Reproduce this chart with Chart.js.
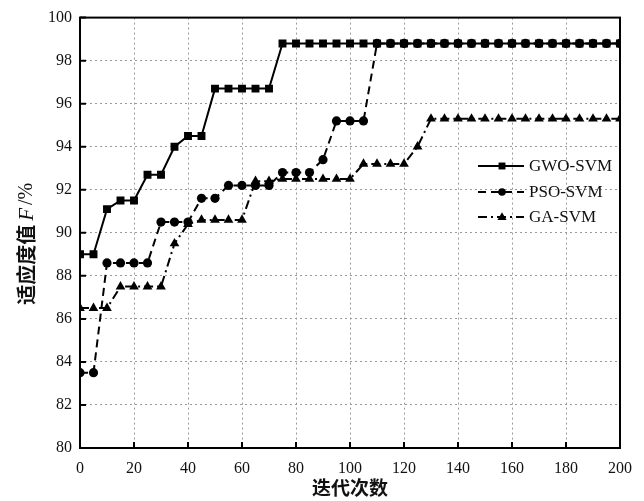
<!DOCTYPE html>
<html><head><meta charset="utf-8">
<script src="https://cdn.jsdelivr.net/npm/chart.js@4/dist/chart.umd.min.js"></script>
<style>html,body{margin:0;padding:0;background:#fff;}canvas{display:block;}</style>
</head><body>
<canvas id="c" width="644" height="501"></canvas>
<script>
// ---- data ----
const iterations = [0,5,10,15,20,25,30,35,40,45,50,55,60,65,70,75,80,85,90,95,100,105,110,115,120,125,130,135,140,145,150,155,160,165,170,175,180,185,190,195,200];
const gwoSvm = [89.0,89.0,91.1,91.5,91.5,92.7,92.7,94.0,94.5,94.5,96.7,96.7,96.7,96.7,96.7,98.8,98.8,98.8,98.8,98.8,98.8,98.8,98.8,98.8,98.8,98.8,98.8,98.8,98.8,98.8,98.8,98.8,98.8,98.8,98.8,98.8,98.8,98.8,98.8,98.8,98.8];
const psoSvm = [83.5,83.5,88.6,88.6,88.6,88.6,90.5,90.5,90.5,91.6,91.6,92.2,92.2,92.2,92.2,92.8,92.8,92.8,93.4,95.2,95.2,95.2,98.8,98.8,98.8,98.8,98.8,98.8,98.8,98.8,98.8,98.8,98.8,98.8,98.8,98.8,98.8,98.8,98.8,98.8,98.8];
const gaSvm  = [86.5,86.5,86.5,87.5,87.5,87.5,87.5,89.5,90.4,90.6,90.6,90.6,90.6,92.4,92.4,92.5,92.5,92.5,92.5,92.5,92.5,93.2,93.2,93.2,93.2,94.0,95.3,95.3,95.3,95.3,95.3,95.3,95.3,95.3,95.3,95.3,95.3,95.3,95.3,95.3,95.3];
const seriesNames = ['GWO-SVM','PSO-SVM','GA-SVM'];
const xTicks = [0,20,40,60,80,100,120,140,160,180,200];
const yTicks = [80,82,84,86,88,90,92,94,96,98,100];
const xTitle = '迭代次数';
const yTitleParts = ['适应度值','F','/%'];

const toPts = arr => arr.map((v,i)=>({x:iterations[i], y:v}));
const SERIF = '"Liberation Serif","DejaVu Serif",serif';
const CJK = '"Noto Sans CJK SC","Noto Sans CJK JP",sans-serif';

function drawMarker(ctx, style, x, y, r){
  ctx.beginPath();
  if(style==='rect'){ const s=r*0.72; ctx.rect(x-s,y-s,2*s,2*s); }
  else if(style==='triangle'){ ctx.moveTo(x,y-r); ctx.lineTo(x+r*0.95,y+r*0.6); ctx.lineTo(x-r*0.95,y+r*0.6); ctx.closePath(); }
  else { ctx.arc(x,y,r,0,Math.PI*2); }
  ctx.fill();
}

const framePlugin = {
  id:'frame',
  afterDraw(chart){
    const {ctx, chartArea:a, scales:{x,y}} = chart;
    ctx.save();
    ctx.strokeStyle='#000'; ctx.lineWidth=2; ctx.setLineDash([]);
    ctx.strokeRect(a.left, a.top, a.right-a.left, a.bottom-a.top);
    // inward tick marks (bottom and left)
    ctx.beginPath();
    xTicks.forEach(t=>{ const px=x.getPixelForValue(t); ctx.moveTo(px,a.bottom); ctx.lineTo(px,a.bottom-6); });
    yTicks.forEach(t=>{ const py=y.getPixelForValue(t); ctx.moveTo(a.left,py); ctx.lineTo(a.left+6,py); });
    ctx.stroke();
    // y title with italic F
    ctx.translate(26, (a.top+a.bottom)/2+11);
    ctx.rotate(-Math.PI/2);
    ctx.fillStyle='#111'; ctx.textBaseline='middle'; ctx.textAlign='left';
    const fonts=['bold 20px '+CJK,'italic 21px '+SERIF,'20px '+SERIF];
    const gaps=[4,3,0];
    let widths = yTitleParts.map((p,i)=>{ctx.font=fonts[i]; return ctx.measureText(p).width;});
    let total = widths.reduce((s,w,i)=>s+w+gaps[i],0);
    let cx=-total/2;
    yTitleParts.forEach((p,i)=>{ ctx.font=fonts[i]; ctx.fillText(p,cx,i===0?0:1); cx+=widths[i]+gaps[i]; });
    ctx.restore();
    // legend
    ctx.save();
    const rows=[166,192,217];
    chart.data.datasets.forEach((ds,i)=>{
      const yy=rows[i];
      ctx.strokeStyle='#000'; ctx.lineWidth=2; ctx.setLineDash(ds.borderDash||[]);
      ctx.beginPath(); ctx.moveTo(478,yy); ctx.lineTo(524,yy); ctx.stroke();
      ctx.setLineDash([]); ctx.fillStyle='#000';
      drawMarker(ctx, ds.pointStyle, 502, yy, ds.pointRadius-0.8);
      ctx.font='17px '+SERIF; ctx.textBaseline='middle'; ctx.textAlign='left'; ctx.fillStyle='#111';
      ctx.fillText(ds.label, 529, yy+1);
    });
    ctx.restore();
  }
};

const common = {borderColor:'#000', backgroundColor:'#000', pointBackgroundColor:'#000', pointBorderColor:'#000', borderWidth:2, pointBorderWidth:0, tension:0, fill:false};
new Chart(document.getElementById('c'), {
  type:'line',
  data:{datasets:[
    Object.assign({label:seriesNames[0], data:toPts(gwoSvm), pointStyle:'rect', pointRadius:5.6, borderDash:[], order:1}, common),
    Object.assign({label:seriesNames[1], data:toPts(psoSvm), pointStyle:'circle', pointRadius:4.6, borderDash:[8,5], order:0}, common),
    Object.assign({label:seriesNames[2], data:toPts(gaSvm), pointStyle:'triangle', pointRadius:5.6, borderDash:[9,4,2,4], order:2}, common)
  ]},
  options:{
    responsive:false, animation:false, devicePixelRatio:1,
    layout:{padding:{left:0,right:24,top:14,bottom:0}},
    plugins:{legend:{display:false}, tooltip:{enabled:false}},
    elements:{point:{hoverRadius:0}},
    scales:{
      x:{type:'linear', min:0, max:200,
         afterFit(s){ s.height=53; },
         afterBuildTicks(s){ s.ticks = xTicks.map(v=>({value:v})); },
         grid:{color:'#9a9a9a', lineWidth:1, drawTicks:false},
         border:{display:false, dash:[2,3]},
         ticks:{padding:11, color:'#111', font:{family:SERIF, size:16}, maxRotation:0, autoSkip:false},
         title:{display:true, text:xTitle, color:'#111', font:{family:CJK, size:19, weight:'bold', lineHeight:1.2}, padding:{top:0,bottom:2}}
      },
      y:{min:80, max:100,
         afterFit(s){ s.width=80; },
         afterBuildTicks(s){ s.ticks = yTicks.map(v=>({value:v})); },
         grid:{color:'#9a9a9a', lineWidth:1, drawTicks:false},
         border:{display:false, dash:[2,3]},
         ticks:{padding:8, color:'#111', font:{family:SERIF, size:16}, autoSkip:false}
      }
    }
  },
  plugins:[framePlugin]
});
</script>
</body></html>
